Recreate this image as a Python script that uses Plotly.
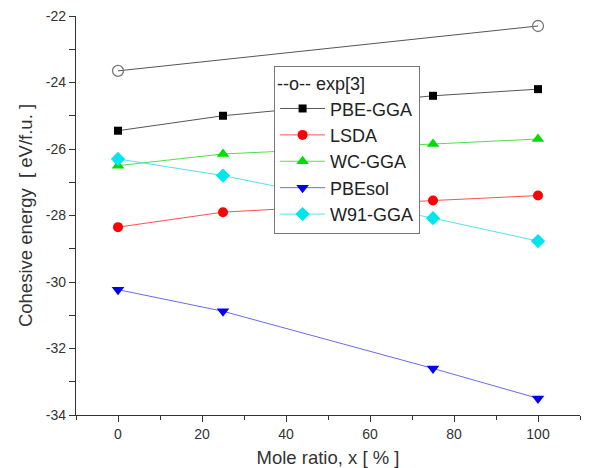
import plotly.graph_objects as go

x_exp = [0, 100]
y_exp = [-23.65, -22.3]

x_calc = [0, 25, 75, 100]
pbe_gga = [-25.45, -25.0, -24.4, -24.2]
lsda = [-28.35, -27.9, -27.55, -27.4]
wc_gga = [-26.5, -26.15, -25.85, -25.7]
pbesol = [-30.23, -30.88, -32.6, -33.5]
w91_gga = [-26.3, -26.8, -28.08, -28.77]

series = [
    ("PBE-GGA", pbe_gga, "#000000", "#555555", "square", 8),
    ("LSDA", lsda, "#ff0000", "#ff5050", "circle", 10),
    ("WC-GGA", wc_gga, "#00dd00", "#55dd55", "triangle-up", 11),
    ("PBEsol", pbesol, "#0000ee", "#6a6aee", "triangle-down", 11),
    ("W91-GGA", w91_gga, "#00e5ee", "#55e0ee", "diamond", 11),
]

fig = go.Figure()
fig.add_trace(go.Scatter(
    x=x_exp, y=y_exp, mode="lines+markers", name="exp[3]", showlegend=False,
    line=dict(color="#555555", width=1),
    marker=dict(symbol="circle-open", size=11, color="#777777", line=dict(width=1.3)),
))
for name, ys, mc, lc, sym, sz in series:
    fig.add_trace(go.Scatter(
        x=x_calc, y=ys, mode="lines+markers", name=name,
        line=dict(color=lc, width=1),
        marker=dict(symbol=sym, size=sz, color=mc),
    ))

font_family = "Liberation Sans, Arial, sans-serif"
fig.update_layout(
    width=607, height=468,
    margin=dict(l=76, r=27, t=16, b=53),
    paper_bgcolor="white", plot_bgcolor="white",
    font=dict(family=font_family, color="#333333"),
    legend=dict(
        x=0.393, y=0.875, xanchor="left", yanchor="top",
        bgcolor="white", bordercolor="#777777", borderwidth=1,
        font=dict(size=18, color="#222222"),
        title=dict(text="--o-- exp[3]", font=dict(size=18, color="#222222"), side="top"),
        tracegroupgap=0, itemwidth=45,
    ),
    xaxis=dict(
        range=[-10, 110], tickvals=[0, 20, 40, 60, 80, 100], automargin=False,
        showgrid=False, zeroline=False, showline=True, linecolor="#333333", linewidth=1.3,
        ticks="outside", ticklen=6, tickcolor="#333333",
        minor=dict(tickvals=[-10, 10, 30, 50, 70, 90, 110], ticks="outside", ticklen=4, tickcolor="#333333"),
        tickfont=dict(size=14, color="#333333"),
        title=dict(text="Mole ratio, x [ % ]", font=dict(size=18.5, color="#333333"), standoff=14),
    ),
    yaxis=dict(
        range=[-34, -22], tickvals=[-34, -32, -30, -28, -26, -24, -22], automargin=False,
        ticktext=["-34", "-32", "-30", "-28", "-26", "-24", "-22"],
        showgrid=False, zeroline=False, showline=True, linecolor="#333333", linewidth=1.3,
        ticks="outside", ticklen=6, tickcolor="#333333",
        minor=dict(tickvals=[-33, -31, -29, -27, -25, -23], ticks="outside", ticklen=6, tickcolor="#333333"),
        tickfont=dict(size=14, color="#333333"),
        title=dict(text="Cohesive energy  [ eV/f.u. ]", font=dict(size=18.5, color="#333333"), standoff=8),
    ),
)

fig.write_html("out.html")
